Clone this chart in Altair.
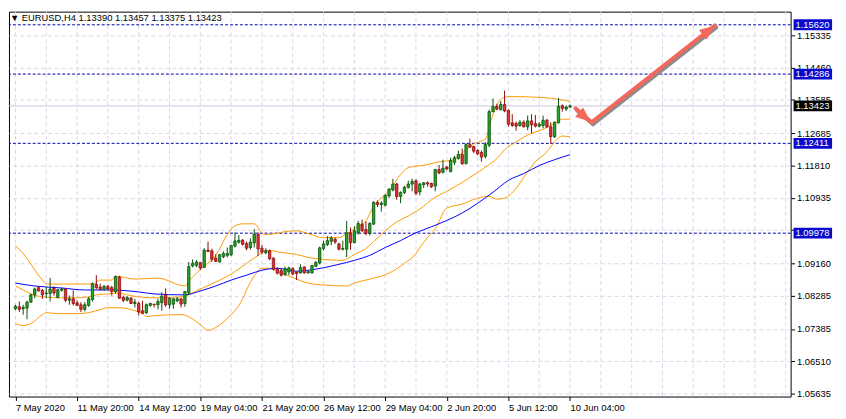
import json
import numpy as np
import pandas as pd
import altair as alt

# ---------------- data ----------------
title_text = "\u25BC EURUSD,H4  1.13390 1.13457 1.13375 1.13423"

opens = [1.07933,1.07986,1.07933,1.07950,1.08111,1.08307,1.08503,1.08432,1.08343,1.08343,
         1.08485,1.08236,1.08432,1.08467,1.08164,1.08200,1.08093,1.08040,1.07915,1.08022,
         1.08182,1.08592,1.08521,1.08449,1.08539,1.08503,1.08396,1.08788,1.08236,1.08164,
         1.08218,1.08075,1.08075,1.07879,1.07826,1.08022,1.08057,1.08039,1.08093,1.08307,
         1.08039,1.08057,1.08146,1.08200,1.08075,1.08360,1.09091,1.09108,1.09180,1.09055,
         1.09518,1.09501,1.09304,1.09198,1.09340,1.09376,1.09394,1.09625,1.09732,1.09786,
         1.09697,1.09590,1.09714,1.09946,1.09572,1.09447,1.09501,1.09304,1.09001,1.08966,
         1.08859,1.08930,1.09019,1.08921,1.08903,1.09063,1.08903,1.08903,1.09081,1.09170,
         1.09562,1.09669,1.09758,1.09812,1.09687,1.09544,1.09544,1.09990,1.09723,1.09990,
         1.10222,1.10079,1.09972,1.10222,1.10810,1.10756,1.10738,1.10988,1.11148,1.11309,
         1.10970,1.11077,1.11219,1.11309,1.11398,1.11095,1.11291,1.11344,1.11326,1.11255,
         1.11700,1.11628,1.11771,1.11646,1.11896,1.12003,1.12110,1.11860,1.12377,1.12323,
         1.12217,1.12163,1.12056,1.12359,1.13268,1.13411,1.13321,1.13464,1.13304,1.12965,
         1.12947,1.12894,1.12983,1.12858,1.13018,1.12947,1.12876,1.12894,1.13036,1.12858,
         1.12591,1.12965,1.13428,1.13339,1.13390]
highs = [1.08040,1.08129,1.08040,1.08147,1.08343,1.08503,1.08539,1.08467,1.08521,1.08770,
         1.08539,1.08467,1.08503,1.08485,1.08289,1.08432,1.08164,1.08111,1.08111,1.08253,
         1.08645,1.08841,1.08610,1.08574,1.08574,1.08556,1.08824,1.08824,1.08289,1.08271,
         1.08253,1.08200,1.08129,1.08147,1.08075,1.08093,1.08057,1.08200,1.08378,1.08485,
         1.08235,1.08218,1.08253,1.08218,1.08413,1.09198,1.09269,1.09251,1.09198,1.09572,
         1.09750,1.09554,1.09411,1.09411,1.09483,1.09590,1.09661,1.10000,1.09928,1.09821,
         1.09750,1.09839,1.10089,1.10000,1.09661,1.09572,1.09536,1.09322,1.09055,1.09037,
         1.09073,1.09073,1.09055,1.08939,1.09135,1.09081,1.08974,1.09117,1.09224,1.09616,
         1.09776,1.09901,1.09901,1.09865,1.09723,1.09776,1.10311,1.10132,1.10168,1.10311,
         1.10346,1.10293,1.10275,1.10845,1.10863,1.10845,1.11023,1.11202,1.11451,1.11344,
         1.11112,1.11255,1.11398,1.11451,1.11433,1.11344,1.11362,1.11380,1.11344,1.11718,
         1.11825,1.11967,1.11789,1.12021,1.12074,1.12217,1.12270,1.12413,1.12537,1.12341,
         1.12252,1.12217,1.12448,1.13321,1.13624,1.13482,1.13553,1.13838,1.13321,1.13197,
         1.13001,1.13036,1.13036,1.13161,1.13197,1.13179,1.12983,1.13161,1.13072,1.12983,
         1.13001,1.13642,1.13464,1.13428,1.13457]
lows = [1.07897,1.07844,1.07772,1.07648,1.08093,1.08218,1.08396,1.08200,1.08218,1.08129,
        1.08289,1.08218,1.08396,1.08111,1.08040,1.08022,1.08004,1.07844,1.07861,1.07986,
        1.08129,1.08467,1.08432,1.08432,1.08432,1.08289,1.08343,1.08200,1.08111,1.08129,
        1.08057,1.07968,1.07754,1.07790,1.07790,1.07986,1.07968,1.07915,1.07879,1.07986,
        1.07932,1.07932,1.08111,1.07968,1.07986,1.08307,1.09055,1.09055,1.08984,1.09037,
        1.09465,1.09198,1.09198,1.09180,1.09304,1.09322,1.09358,1.09590,1.09697,1.09643,
        1.09518,1.09536,1.09590,1.09358,1.09411,1.09411,1.09251,1.08966,1.08859,1.08806,
        1.08823,1.08841,1.08841,1.08707,1.08885,1.08885,1.08885,1.08885,1.09063,1.09135,
        1.09509,1.09633,1.09651,1.09687,1.09509,1.09509,1.09330,1.09527,1.09705,1.09936,
        1.10008,1.09918,1.09918,1.10204,1.10685,1.10560,1.10703,1.10934,1.11112,1.10881,
        1.10792,1.11041,1.11184,1.11112,1.11006,1.11006,1.11202,1.11237,1.11202,1.11112,
        1.11575,1.11593,1.11682,1.11628,1.11825,1.11967,1.11825,1.11842,1.12288,1.12145,
        1.12092,1.11914,1.12003,1.12306,1.13250,1.13304,1.13304,1.13250,1.12858,1.12858,
        1.12751,1.12858,1.12840,1.12769,1.12680,1.12840,1.12840,1.12822,1.12822,1.12395,
        1.12555,1.12947,1.13268,1.13286,1.13375]
closes = [1.08004,1.07915,1.07968,1.08111,1.08307,1.08467,1.08414,1.08307,1.08360,1.08467,
          1.08360,1.08449,1.08467,1.08164,1.08200,1.08075,1.08022,1.07915,1.08040,1.08200,
          1.08610,1.08503,1.08449,1.08539,1.08467,1.08396,1.08806,1.08218,1.08164,1.08236,
          1.08075,1.08111,1.07844,1.07808,1.08040,1.08075,1.08040,1.08128,1.08271,1.08039,
          1.08218,1.08200,1.08200,1.08057,1.08396,1.09073,1.09162,1.09198,1.09037,1.09518,
          1.09483,1.09269,1.09215,1.09394,1.09429,1.09429,1.09643,1.09768,1.09786,1.09679,
          1.09572,1.09732,1.09946,1.09554,1.09465,1.09501,1.09287,1.09001,1.08895,1.08841,
          1.09019,1.09037,1.08877,1.08885,1.09046,1.08903,1.08939,1.09099,1.09188,1.09580,
          1.09687,1.09776,1.09847,1.09740,1.09544,1.09562,1.09990,1.09723,1.10043,1.10239,
          1.10043,1.09972,1.10239,1.10810,1.10756,1.10792,1.11006,1.11166,1.11309,1.10970,
          1.11077,1.11219,1.11309,1.11380,1.11059,1.11309,1.11344,1.11309,1.11237,1.11701,
          1.11611,1.11735,1.11718,1.11949,1.12021,1.12110,1.11860,1.12377,1.12306,1.12199,
          1.12127,1.12038,1.12377,1.13268,1.13411,1.13339,1.13464,1.13286,1.12929,1.12894,
          1.12876,1.12983,1.12858,1.13018,1.12912,1.12876,1.12929,1.13036,1.12858,1.12591,
          1.12983,1.13411,1.13357,1.13393,1.13423]

upper_idx = [0,2,7,8,20,22,25,26,31,37,44,45,49,52,55,57,59,62,64,65,70,73,76,80,84,86,88,91,93,97,
             100,102,107,110,113,117,119,122,124,126,128,137,144]
upper_val = [1.09643,1.09430,1.08708,1.08601,1.08601,1.08708,1.08708,1.08815,1.08735,1.08761,
             1.08548,1.08681,1.09082,1.09376,1.09937,1.10178,1.10231,1.10231,1.09990,1.09937,
             1.10017,1.10044,1.09964,1.09857,1.09857,1.09964,1.10097,1.10311,1.10712,1.11113,
             1.11567,1.11754,1.11834,1.11914,1.11941,1.12235,1.12395,1.12529,1.13197,1.13598,
             1.13678,1.13651,1.13545]
mid_idx = [0,2,4,7,12,16,19,21,24,27,29,32,36,43,48,52,56,60,63,65,66,69,73,76,80,85,88,91,93,96,
           99,102,105,109,112,116,120,123,125,127,130,133,137,140,142,144]
mid_val = [1.08548,1.08441,1.08334,1.08254,1.08227,1.08227,1.08254,1.08307,1.08334,1.08360,
           1.08307,1.08254,1.08227,1.08254,1.08467,1.08654,1.08868,1.09162,1.09376,1.09509,
           1.09509,1.09456,1.09403,1.09322,1.09269,1.09242,1.09403,1.09563,1.09750,1.10044,
           1.10284,1.10445,1.10632,1.10952,1.11113,1.11353,1.11621,1.11834,1.11995,1.12235,
           1.12449,1.12636,1.12796,1.12957,1.13064,1.13064]
lower_idx = [0,2,4,7,8,11,16,19,22,24,27,31,33,34,36,43,48,50,52,56,57,59,60,62,64,66,69,73,75,80,
             86,88,92,97,101,104,105,107,109,112,116,120,123,125,127,130,133,135,138,140,142,144]
lower_val = [1.07532,1.07479,1.07532,1.07773,1.07826,1.07799,1.07799,1.07826,1.07906,1.07960,
             1.07960,1.07879,1.07799,1.07719,1.07746,1.07773,1.07505,1.07345,1.07425,1.07773,
             1.07879,1.08200,1.08441,1.08815,1.09028,1.09028,1.08895,1.08735,1.08654,1.08574,
             1.08548,1.08628,1.08735,1.08895,1.09162,1.09429,1.09590,1.09857,1.10097,1.10659,
             1.10765,1.10926,1.10979,1.10899,1.10926,1.11193,1.11647,1.11914,1.12182,1.12449,
             1.12609,1.12583]
ma_idx = [0,5,12,18,25,32,36,44,48,52,56,60,64,68,73,76,84,88,92,96,100,104,108,116,124,128,132,136,140,144]
ma_val = [1.08628,1.08548,1.08494,1.08441,1.08441,1.08387,1.08334,1.08307,1.08414,1.08548,
          1.08708,1.08841,1.08975,1.09028,1.08948,1.08975,1.09135,1.09242,1.09376,1.09590,
          1.09777,1.09990,1.10151,1.10525,1.11086,1.11407,1.11594,1.11808,1.11968,1.12102]

x_label_bars = [0, 16, 32, 48, 64, 80, 96, 112, 128, 144]
x_labels = ["7 May 2020", "11 May 20:00", "14 May 12:00", "19 May 04:00", "21 May 20:00",
            "26 May 12:00", "29 May 04:00", "2 Jun 20:00", "5 Jun 12:00", "10 Jun 04:00"]
grid_bars = list(range(0, 201, 8))
y_ticks = [1.15335, 1.14460, 1.13585, 1.12685, 1.11810, 1.10935, 1.10060,
           1.09160, 1.08285, 1.07385, 1.06510, 1.05635]
y_hidden_label = 1.10060   # fully covered by the 1.09978 box in the reference
level_prices = [1.15620, 1.14286, 1.12411, 1.09978]
last_price = 1.13423

arrow_seg = [1, 1, 2, 2]
arrow_bars = [145.4, 149.6, 149.6, 181.6]
arrow_prices = [1.13358, 1.12983, 1.12983, 1.15602]
head_bars = [149.4, 181.6]
head_prices = [1.12990, 1.15602]
head_angles = [130, 52]

# ---------------- chart ----------------
FONT = "Liberation Sans"
xscale = alt.Scale(domain=[-0.4, 200], nice=False, zero=False)
yscale = alt.Scale(domain=[1.05555, 1.15976], nice=False, zero=False)

label_expr = ("datum.value % 16 == 0 && datum.value <= 144 ? "
              + json.dumps(x_labels) + "[datum.value / 16] : ''")
y_label_expr = f"abs(datum.value - {y_hidden_label}) < 0.000001 ? '' : format(datum.value, '.5f')"

x_axis = alt.Axis(values=x_label_bars, labelExpr=label_expr, grid=False, domain=False,
                  ticks=True, tickSize=4, tickColor="black", labelAlign="left",
                  labelBaseline="top", labelPadding=2, labelFont=FONT, labelFontSize=9.5,
                  labelColor="black", labelOverlap=False, labelFlush=False, labelBound=False,
                  title=None)
y_axis = alt.Axis(orient="right", values=y_ticks, labelExpr=y_label_expr, grid=True,
                  gridColor="#D8D8EA", gridDash=[4, 3], gridWidth=1, domain=False,
                  ticks=True, tickSize=4, tickColor="black", labelPadding=2,
                  labelFont=FONT, labelFontSize=9.5, labelColor="black",
                  labelOverlap=False, labelFlush=False, labelBound=False, title=None)

def X(f):
    return alt.X(f, type="quantitative", scale=xscale, axis=x_axis)

def Y(f):
    return alt.Y(f, type="quantitative", scale=yscale, axis=y_axis)

candles = pd.DataFrame({"i": list(range(len(opens))), "o": opens, "h": highs,
                        "l": lows, "c": closes})
candles["dir"] = np.where(candles["c"] >= candles["o"], "up", "down")

vgrid = alt.Chart(pd.DataFrame({"g": grid_bars})).mark_rule(
    color="#D8D8EA", strokeDash=[4, 3], strokeWidth=1).encode(x=X("g"))

price_line = alt.Chart(pd.DataFrame({"p": [last_price]})).mark_rule(
    color="#C8C8DC", strokeWidth=1).encode(y=Y("p"))

levels = alt.Chart(pd.DataFrame({"p": level_prices})).mark_rule(
    color="#0000B0", strokeDash=[3, 2], strokeWidth=1).encode(y=Y("p"))

def band(idx, val, color):
    return alt.Chart(pd.DataFrame({"i": idx, "v": val})).mark_line(
        color=color, strokeWidth=1, interpolate="monotone").encode(x=X("i"), y=Y("v"))

upper = band(upper_idx, upper_val, "#FF9A00")
middle = band(mid_idx, mid_val, "#FF9A00")
lower = band(lower_idx, lower_val, "#FF9A00")
ma = band(ma_idx, ma_val, "#0000FF")

wicks = alt.Chart(candles).mark_rule(strokeWidth=1).encode(
    x=X("i"), y=Y("l"), y2="h",
    color=alt.Color("dir:N", scale=alt.Scale(domain=["up", "down"], range=["#0A4F0A", "#8E0A0A"]),
                    legend=None))
bodies = alt.Chart(candles).mark_bar(size=2.4, strokeWidth=0.8).encode(
    x=X("i"), y=Y("o"), y2="c",
    fill=alt.Fill("dir:N", scale=alt.Scale(domain=["up", "down"], range=["#27A627", "#DB3535"]),
                  legend=None),
    stroke=alt.Stroke("dir:N", scale=alt.Scale(domain=["up", "down"], range=["#0A4F0A", "#8E0A0A"]),
                      legend=None))

arrow_df = pd.DataFrame({"seg": arrow_seg, "i": arrow_bars, "p": arrow_prices,
                         "k": [0, 1, 2, 3]})
arrow_shadow = alt.Chart(arrow_df).mark_line(color="#8C8C8C", strokeWidth=4, xOffset=1.5,
                                             yOffset=2, strokeCap="round").encode(
    x=X("i"), y=Y("p"), detail="seg:N", order="k:Q")
arrow_line = alt.Chart(arrow_df).mark_line(color="#F4675B", strokeWidth=4,
                                           strokeCap="round").encode(
    x=X("i"), y=Y("p"), detail="seg:N", order="k:Q")
heads = alt.Chart(pd.DataFrame({"i": head_bars, "p": head_prices, "a": head_angles})).mark_point(
    shape="M0,0 L-0.8,2 L0.8,2 Z", size=240, filled=True, color="#F4675B", opacity=1).encode(
    x=X("i"), y=Y("p"), angle=alt.Angle("a:Q", scale=None))

box_df = pd.DataFrame({"p": level_prices + [last_price],
                       "lab": [f"{v:.5f}" for v in level_prices] + [f"{last_price:.5f}"],
                       "col": ["#0A0ACD"] * len(level_prices) + ["#000000"]})
boxes = alt.Chart(box_df).mark_rule(strokeWidth=11, strokeCap="butt").encode(
    y=Y("p"), x=alt.value(795), x2=alt.value(834), color=alt.Color("col:N", scale=None))
box_text = alt.Chart(box_df).mark_text(align="left", baseline="middle", color="white",
                                       font=FONT, fontSize=9.5).encode(
    y=Y("p"), x=alt.value(797), text="lab:N")

title = alt.Chart(pd.DataFrame({"t": [title_text]})).mark_text(
    align="left", baseline="top", font=FONT, fontSize=9.5, color="black").encode(
    x=alt.value(1), y=alt.value(1), text="t:N")

chart = alt.layer(
    vgrid, price_line, levels, upper, middle, lower, ma, wicks, bodies,
    arrow_shadow, arrow_line, heads, boxes, box_text, title
).properties(width=792, height=390, padding=0, background="white").configure_view(
    stroke="black", strokeWidth=1
)

chart.save("out.html", embed_options={"renderer": "svg", "actions": False})
